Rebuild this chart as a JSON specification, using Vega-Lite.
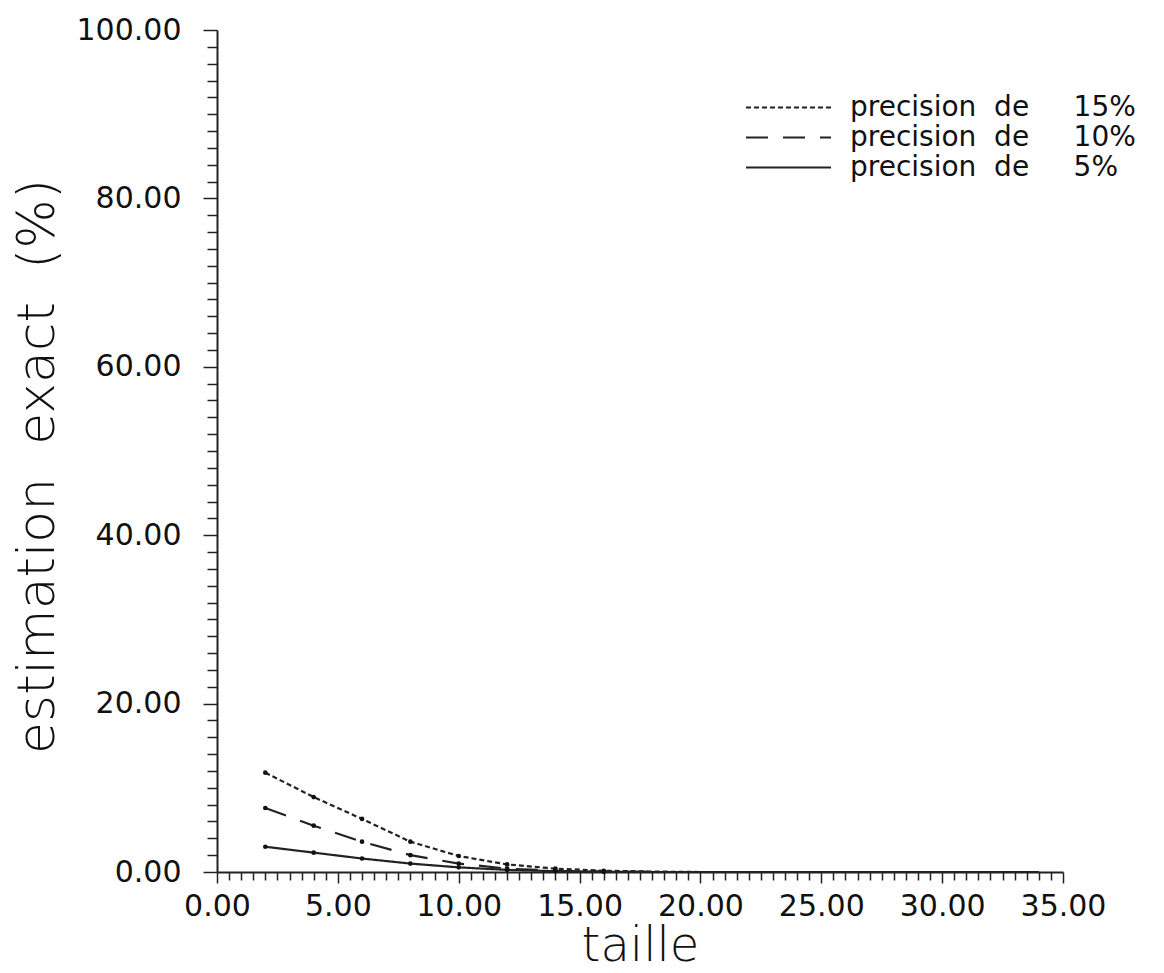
{
  "$schema": "https://vega.github.io/schema/vega-lite/v6.json",
  "width": 846,
  "height": 842,
  "autosize": {"type": "none"},
  "padding": {"left": 217, "top": 30, "right": 101, "bottom": 101},
  "background": "white",
  "config": {
    "view": {"stroke": null},
    "font": "DejaVu Sans",
    "axis": {
      "domainColor": "#222",
      "domainWidth": 2,
      "tickColor": "#222",
      "tickWidth": 1.5,
      "labelColor": "#111",
      "labelFont": "DejaVu Sans",
      "labelFontSize": 30,
      "titleFont": "DejaVu Sans",
      "titleFontWeight": 200,
      "titleColor": "#111",
      "grid": false
    }
  },
  "data": {
    "values": [
      {"serie": "15%", "taille": 2, "valeur": 11.8},
      {"serie": "15%", "taille": 4, "valeur": 8.9},
      {"serie": "15%", "taille": 6, "valeur": 6.3},
      {"serie": "15%", "taille": 8, "valeur": 3.6},
      {"serie": "15%", "taille": 10, "valeur": 1.9},
      {"serie": "15%", "taille": 12, "valeur": 0.9},
      {"serie": "15%", "taille": 14, "valeur": 0.4},
      {"serie": "15%", "taille": 16, "valeur": 0.15},
      {"serie": "15%", "taille": 18, "valeur": 0.05},
      {"serie": "15%", "taille": 20, "valeur": 0},
      {"serie": "15%", "taille": 24, "valeur": 0},
      {"serie": "15%", "taille": 28, "valeur": 0},
      {"serie": "15%", "taille": 34, "valeur": 0},
      {"serie": "10%", "taille": 2, "valeur": 7.6},
      {"serie": "10%", "taille": 4, "valeur": 5.5},
      {"serie": "10%", "taille": 6, "valeur": 3.6},
      {"serie": "10%", "taille": 8, "valeur": 2.0},
      {"serie": "10%", "taille": 10, "valeur": 1.0},
      {"serie": "10%", "taille": 12, "valeur": 0.4},
      {"serie": "10%", "taille": 14, "valeur": 0.15},
      {"serie": "10%", "taille": 16, "valeur": 0.05},
      {"serie": "10%", "taille": 18, "valeur": 0},
      {"serie": "10%", "taille": 24, "valeur": 0},
      {"serie": "10%", "taille": 28, "valeur": 0},
      {"serie": "10%", "taille": 34, "valeur": 0},
      {"serie": "5%", "taille": 2, "valeur": 3.0},
      {"serie": "5%", "taille": 4, "valeur": 2.3},
      {"serie": "5%", "taille": 6, "valeur": 1.6},
      {"serie": "5%", "taille": 8, "valeur": 1.0},
      {"serie": "5%", "taille": 10, "valeur": 0.55},
      {"serie": "5%", "taille": 12, "valeur": 0.25},
      {"serie": "5%", "taille": 14, "valeur": 0.1},
      {"serie": "5%", "taille": 16, "valeur": 0.03},
      {"serie": "5%", "taille": 18, "valeur": 0},
      {"serie": "5%", "taille": 24, "valeur": 0},
      {"serie": "5%", "taille": 28, "valeur": 0},
      {"serie": "5%", "taille": 34, "valeur": 0}
    ]
  },
  "encoding": {
    "x": {
      "field": "taille",
      "type": "quantitative",
      "scale": {"domain": [0, 35], "nice": false, "zero": true},
      "axis": {
        "title": "taille",
        "titleFontSize": 48,
        "titleBaseline": "alphabetic",
        "titleY": 88,
        "values": [0,0.5,1,1.5,2,2.5,3,3.5,4,4.5,5,5.5,6,6.5,7,7.5,8,8.5,9,9.5,10,10.5,11,11.5,12,12.5,13,13.5,14,14.5,15,15.5,16,16.5,17,17.5,18,18.5,19,19.5,20,20.5,21,21.5,22,22.5,23,23.5,24,24.5,25,25.5,26,26.5,27,27.5,28,28.5,29,29.5,30,30.5,31,31.5,32,32.5,33,33.5,34,34.5,35],
        "labelExpr": "datum.value % 5 === 0 ? format(datum.value, '.2f') : ''",
        "tickSize": {"condition": {"test": "datum.value % 5 === 0", "value": 11}, "value": 8},
        "labelPadding": 8,
        "labelOverlap": false,
        "labelFlush": false
      }
    },
    "y": {
      "field": "valeur",
      "type": "quantitative",
      "scale": {"domain": [0, 100], "nice": false},
      "axis": {
        "title": "estimation\u00a0\u00a0exact\u00a0\u00a0(%)",
        "titleFontSize": 52,
        "titlePadding": 12,
        "titleY": 436,
        "values": [0,2,4,6,8,10,12,14,16,18,20,22,24,26,28,30,32,34,36,38,40,42,44,46,48,50,52,54,56,58,60,62,64,66,68,70,72,74,76,78,80,82,84,86,88,90,92,94,96,98,100],
        "labelExpr": "datum.value % 20 === 0 ? format(datum.value, '.2f') : ''",
        "tickSize": {"condition": {"test": "datum.value % 20 === 0", "value": 14}, "value": 10},
        "labelPadding": 22,
        "labelOverlap": false,
        "labelFlush": false
      }
    }
  },
  "layer": [
    {
      "mark": {"type": "line", "strokeWidth": 2.2, "color": "#222"},
      "encoding": {
        "strokeDash": {
          "field": "serie",
          "type": "nominal",
          "scale": {
            "domain": ["15%", "10%", "5%"],
            "range": [[5, 3], [22, 15], [1, 0]]
          },
          "legend": {
            "title": null,
            "orient": "none",
            "legendX": 556,
            "legendY": 62,
            "symbolType": "M-3,0H3",
            "symbolSize": 803,
            "symbolStrokeWidth": 2,
            "symbolStrokeColor": "#222",
            "labelFont": "DejaVu Sans",
            "labelFontSize": 28,
            "labelColor": "#111",
            "labelOffset": 46,
            "rowPadding": -2,
            "labelLimit": 500,
            "labelExpr": "'precision\u00a0\u00a0de\u00a0\u00a0\u00a0\u00a0\u00a0' + datum.label"
          }
        }
      }
    },
    {
      "transform": [{"filter": "datum.taille <= 16"}],
      "mark": {"type": "circle", "size": 22, "color": "#111", "opacity": 1},
      "encoding": {
        "shape": {"field": "serie", "type": "nominal", "legend": null}
      }
    }
  ]
}
